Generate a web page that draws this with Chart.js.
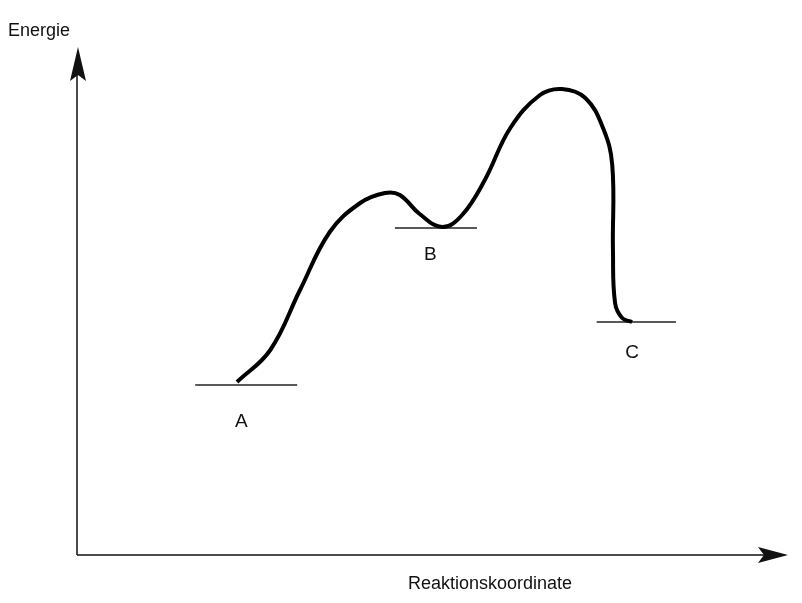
<!DOCTYPE html>
<html>
<head>
<meta charset="utf-8">
<script src="https://cdn.jsdelivr.net/npm/chart.js@4"></script>
<style>
  html, body { margin: 0; padding: 0; background: #fff; }
  #wrap { width: 802px; height: 603px; }
</style>
</head>
<body>
<div id="wrap"><canvas id="energyChart" width="802" height="603"></canvas></div>
<script>
// reaction path (reaction coordinate 0..100, energy 0..100)
const curveX = [22.6, 27.3, 31.5, 35.7, 40.0, 43.5, 45.6, 48.4, 51.6, 54.4,
  57.6, 61.2, 65.4, 68.5, 71.8, 74.3, 75.6, 75.7, 76.0, 77.0, 78.4];
const curveY = [34.6, 41.0, 53.0, 64.6, 70.4, 72.4, 72.0, 68.2, 65.6, 68.0,
  75.0, 85.4, 92.0, 93.2, 91.4, 85.4, 78.0, 61.0, 50.4, 47.4, 46.6];

// energy levels of the states
const levelNames = ["A", "B", "C"];
const levelStart = [16.7, 44.9, 73.4];
const levelEnd = [31.1, 56.5, 84.6];
const levelY = [34.0, 65.4, 46.6];
const labelX = [23.2, 49.9, 78.4];
const labelY = [26.6, 60.0, 40.4];

const yTitle = "Energie";
const xTitle = "Reaktionskoordinate";

const ctxCanvas = document.getElementById("energyChart");
const FONT = '18px "Liberation Sans", Arial, sans-serif';

var datasets = [{
  data: curveX.map((x, i) => ({ x: x, y: curveY[i] })),
  borderColor: "#000",
  borderWidth: 4,
  pointRadius: 0,
  tension: 0.4,
  fill: false
}];
levelNames.forEach(function(n, i) {
  datasets.push({
    data: [{ x: levelStart[i], y: levelY[i] }, { x: levelEnd[i], y: levelY[i] }],
    borderColor: "#222",
    borderWidth: 1.5,
    pointRadius: 0,
    tension: 0,
    fill: false
  });
});

// axes with arrows, titles and state labels
const decor = {
  id: "decor",
  afterDraw(chart) {
    const c = chart.ctx;
    const a = chart.chartArea;
    const xs = chart.scales.x, ys = chart.scales.y;
    c.save();
    c.strokeStyle = "#111";
    c.fillStyle = "#111";
    c.lineWidth = 1.5;
    c.beginPath();
    c.moveTo(a.left, a.bottom);
    c.lineTo(a.left, a.top);
    c.moveTo(a.left, a.bottom);
    c.lineTo(a.right, a.bottom);
    c.stroke();
    // y arrow
    c.beginPath();
    c.moveTo(a.left + 1, a.top - 8);
    c.lineTo(a.left - 7, a.top + 26);
    c.lineTo(a.left + 1, a.top + 20);
    c.lineTo(a.left + 9, a.top + 26);
    c.closePath();
    c.fill();
    // x arrow
    c.beginPath();
    c.moveTo(a.right + 3, a.bottom);
    c.lineTo(a.right - 27, a.bottom - 8);
    c.lineTo(a.right - 21, a.bottom);
    c.lineTo(a.right - 27, a.bottom + 8);
    c.closePath();
    c.fill();

    c.font = FONT;
    c.textBaseline = "middle";
    c.textAlign = "left";
    c.fillText(yTitle, 8, 31);
    c.textAlign = "center";
    c.fillText(xTitle, 490, 584);
    c.font = '19px "Liberation Sans", Arial, sans-serif';
    levelNames.forEach(function(n, i) {
      c.fillText(n, xs.getPixelForValue(labelX[i]), ys.getPixelForValue(labelY[i]));
    });
    c.restore();
  }
};

new Chart(ctxCanvas, {
  type: "line",
  data: { datasets: datasets },
  options: {
    responsive: false,
    animation: false,
    layout: { padding: { left: 77, right: 17, top: 55, bottom: 48 } },
    scales: {
      x: { type: "linear", min: 0, max: 100, display: false },
      y: { type: "linear", min: 0, max: 100, display: false }
    },
    plugins: {
      legend: { display: false },
      tooltip: { enabled: false }
    }
  },
  plugins: [decor]
});
</script>
</body>
</html>
